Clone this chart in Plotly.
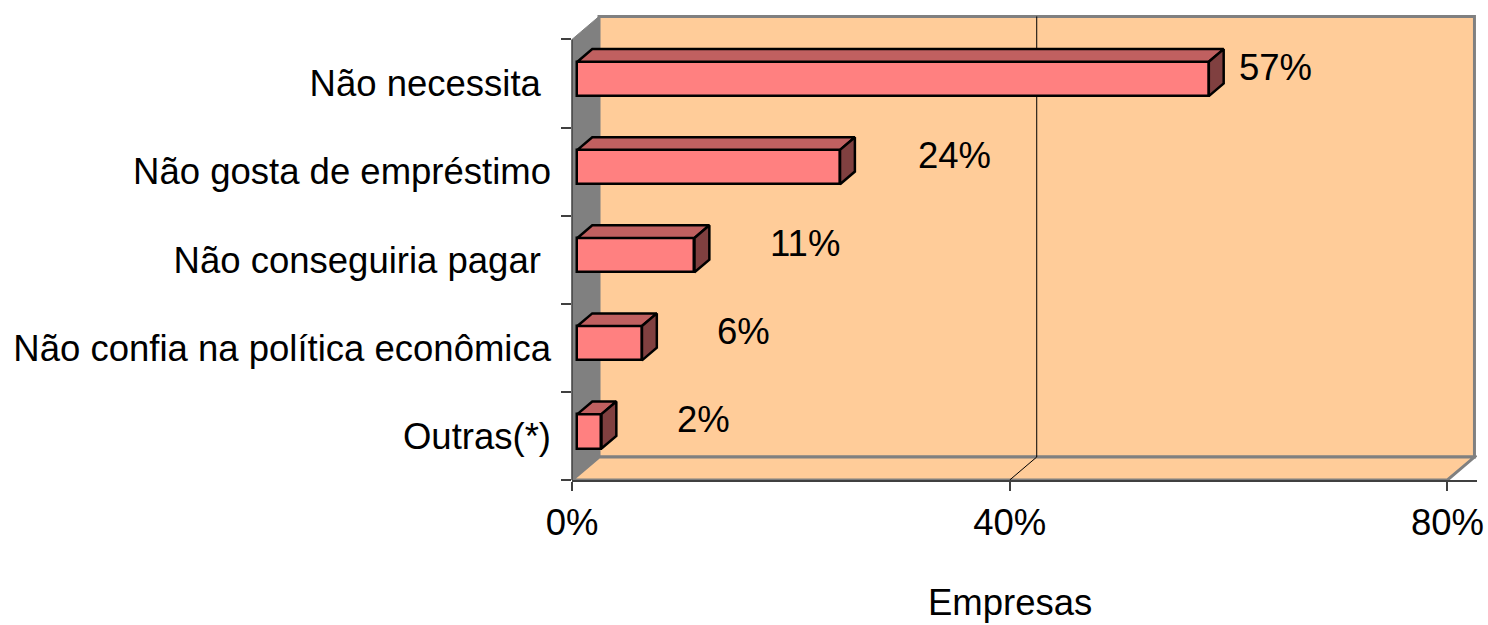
import plotly.graph_objects as go

# data
categories = ["Não necessita\u00a0", "Não gosta de empréstimo", "Não conseguiria pagar\u00a0",
              "Não confia na política econômica", "Outras(*)"]
values = [57.7, 24.0, 10.7, 5.9, 2.2]          # bar lengths, % of companies
value_labels = ["57%", "24%", "11%", "6%", "2%"]
x_ticks = [0, 40, 80]
x_tick_labels = ["0%", "40%", "80%"]
x_title = "Empresas"

FONT = "Liberation Sans, Arial, sans-serif"
FS = 36.5

# fake 3D: depth offset of the back wall, in axis units
DX = 27 / 10.94
DY = 23 / 88.2
D0, D1 = 0.2, 0.75        # bar front / back depth fraction
H = 0.39                  # bar thickness
X_MAX = 80
N = len(categories)

centers = [N - 0.5 - i for i in range(N)]
ybar = [c + D0 * DY for c in centers]
base = [D0 * DX] * N

fig = go.Figure()

# front faces
fig.add_trace(go.Bar(
    y=ybar, x=values, base=base, orientation="h", width=H,
    marker=dict(color="#FF8080", line=dict(color="black", width=2.5)),
    hoverinfo="skip", showlegend=False,
))

# top and side faces
ox, oy = (D1 - D0) * DX, (D1 - D0) * DY
top_x, top_y, side_x, side_y = [], [], [], []
for v, yb in zip(values, ybar):
    x0, x1 = D0 * DX, v + D0 * DX
    yt, ybot = yb + H / 2, yb - H / 2
    top_x += [x0, x1, x1 + ox, x0 + ox, x0, None]
    top_y += [yt, yt, yt + oy, yt + oy, yt, None]
    side_x += [x1, x1 + ox, x1 + ox, x1, x1, None]
    side_y += [yt, yt + oy, ybot + oy, ybot, yt, None]

fig.add_trace(go.Scatter(x=top_x, y=top_y, mode="lines", fill="toself", fillcolor="#C06060",
                         line=dict(color="black", width=2.5), hoverinfo="skip", showlegend=False))
fig.add_trace(go.Scatter(x=side_x, y=side_y, mode="lines", fill="toself", fillcolor="#804040",
                         line=dict(color="black", width=2.5), hoverinfo="skip", showlegend=False))

# dummy trace carrying the tick-mark axis
fig.add_trace(go.Scatter(x=[0], y=[0], yaxis="y2", mode="markers", marker=dict(opacity=0),
                         hoverinfo="skip", showlegend=False))

# walls and floor
wall = "#FFCC99"
grey = "#808080"
shapes = [
    dict(type="rect", x0=DX, x1=X_MAX + DX, y0=DY, y1=N + DY, fillcolor=wall,
         line=dict(color=grey, width=3), layer="below"),
    dict(type="path", path=f"M0,0 L{X_MAX},0 L{X_MAX + DX},{DY} L{DX},{DY} Z", fillcolor=wall,
         line=dict(color=grey, width=3), layer="below"),
    dict(type="path", path=f"M0,0 L{DX},{DY} L{DX},{N + DY} L0,{N} Z", fillcolor=grey,
         line=dict(color=grey, width=1), layer="below"),
    dict(type="line", x0=40 + DX, x1=40 + DX, y0=DY, y1=N + DY, line=dict(color="black", width=1),
         layer="below"),
    dict(type="line", x0=40, x1=40 + DX, y0=0, y1=DY, line=dict(color="black", width=1), layer="below"),
    dict(type="line", xref="paper", x0=0, x1=0, y0=0, y1=N, line=dict(color="#404040", width=1.5)),
]

# value labels
label_shift = [67, 114, 111, 102, 102]
annotations = []
for v, c, t, s in zip(values, centers, value_labels, label_shift):
    annotations.append(dict(x=v + D0 * DX, y=c, text=t, showarrow=False, xanchor="center",
                            yanchor="middle", xshift=s, yshift=16,
                            font=dict(family=FONT, size=FS, color="black")))
annotations.append(dict(x=40, y=-0.263, yref="paper", text=x_title, showarrow=False,
                        xanchor="center", yanchor="middle",
                        font=dict(family=FONT, size=FS, color="black")))

Y_TOP = 5.3
fig.update_layout(
    width=1488, height=625,
    paper_bgcolor="white", plot_bgcolor="white",
    margin=dict(l=572, r=11.3, t=13, b=144.5, autoexpand=False),
    font=dict(family=FONT, size=FS, color="black"),
    xaxis=dict(range=[0, 82.7], tickvals=x_ticks, ticktext=x_tick_labels, showgrid=False,
               zeroline=False, showline=True, linecolor="#404040", linewidth=2,
               ticks="outside", ticklen=9, tickcolor="#404040", tickwidth=1.5,
               ticklabelstandoff=0, ticklabeloverflow="allow",
               tickfont=dict(family=FONT, size=FS, color="black")),
    yaxis=dict(range=[0, Y_TOP], tickvals=centers, ticktext=categories, ticks="",
               showgrid=False, zeroline=False, showline=False, ticklabelstandoff=20,
               tickfont=dict(family=FONT, size=FS, color="black")),
    yaxis2=dict(range=[0, Y_TOP], overlaying="y", side="left", tickvals=list(range(N + 1)),
                ticks="outside", ticklen=10, tickcolor="#404040", tickwidth=1.5,
                showticklabels=False, showgrid=False, zeroline=False, showline=False),
    shapes=shapes,
    annotations=annotations,
    bargap=0,
)

# drop the page's default body margin so the figure fills the window exactly
fig.write_html("out.html", config={"displayModeBar": False},
               post_script="document.body.style.margin = '0';")
